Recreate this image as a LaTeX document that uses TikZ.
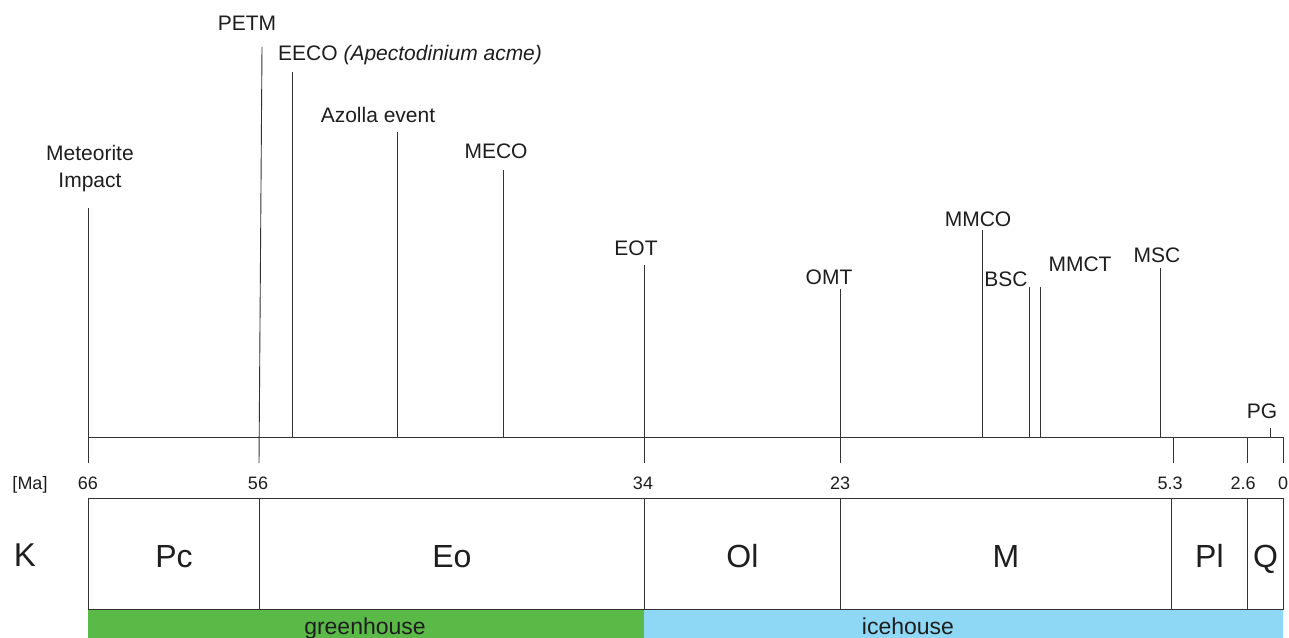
\documentclass[tikz,border=0pt]{standalone}
\usepackage{fontspec}
\setmainfont{Liberation Sans}
\definecolor{ghgreen}{RGB}{91,185,72}
\definecolor{ihblue}{RGB}{142,216,246}
\definecolor{ln}{RGB}{50,50,50}
\definecolor{txt}{RGB}{30,30,30}
\begin{document}
\begin{tikzpicture}[x=1pt,y=-1pt,
  evlabel/.style={font=\fontsize{21}{27}\selectfont, anchor=base, inner sep=0pt, text=txt},
  ticklabel/.style={font=\fontsize{18}{21}\selectfont, anchor=base, inner sep=0pt, text=txt},
  periodbox/.style={draw=ln, line width=0.9pt, anchor=north west, minimum height=111pt, inner sep=0pt, text height=27pt, text depth=0pt, font=\fontsize{32}{36}\selectfont, text=txt},
  climatebar/.style={anchor=north west, minimum height=41pt, inner sep=0pt},
  climatelabel/.style={anchor=base, inner sep=0pt, font=\fontsize{23}{26}\selectfont, text=txt},
  evline/.style={draw=ln, line width=0.9pt},
]
\useasboundingbox (0,0) rectangle (1289,637);
\fill[white] (0,0) rectangle (1289,637);

% climate bars
\node[climatebar, fill=ghgreen, minimum width=556pt] (gh) at (88,609) {};
\node[climatebar, fill=ihblue, minimum width=639pt] (ih) at (644,609) {};
\node[climatelabel] (ghl) at (365,634) {greenhouse};
\node[climatelabel] (ihl) at (908,634) {icehouse};

% period boxes
\node[periodbox, minimum width=171pt] (Pc) at (88,498) {Pc};
\node[periodbox, minimum width=385pt] (Eo) at (259,498) {Eo};
\node[periodbox, minimum width=196pt] (Ol) at (644,498) {Ol};
\node[periodbox, minimum width=331pt] (M) at (840,498) {M};
\node[periodbox, minimum width=76pt] (Pl) at (1171,498) {Pl};
\node[periodbox, minimum width=36pt] (Q) at (1247,498) {Q};
\node[font=\fontsize{33}{36}\selectfont, anchor=base, inner sep=0pt, text=txt] (K) at (25,566) {K};

% axis
\coordinate (ax0) at (88,437);
\coordinate (ax1) at (1283,437);
\draw[evline] (ax0) -- (ax1);

% age ticks and labels
\node[ticklabel] (ma) at (30,489) {[Ma]};
\node[ticklabel] (t66) at (88,489) {66};
\node[ticklabel] (t56) at (258,489) {56};
\node[ticklabel] (t34) at (643,489) {34};
\node[ticklabel] (t23) at (840,489) {23};
\node[ticklabel] (t53) at (1170,489) {5.3};
\node[ticklabel] (t26) at (1243,489) {2.6};
\node[ticklabel] (t0) at (1283,489) {0};

\coordinate (k53t) at (1173,437); \coordinate (k53b) at (1173,463);
\coordinate (k26t) at (1247,437); \coordinate (k26b) at (1247,463);
\coordinate (k0t) at (1283,437); \coordinate (k0b) at (1283,463);
\draw[evline] (k53t) -- (k53b);
\draw[evline] (k26t) -- (k26b);
\draw[evline] (k0t) -- (k0b);

% events
\node[evlabel, align=center] (mi) at (90,187) {Meteorite\\Impact};
\coordinate (mit) at (88,208); \coordinate (mib) at (88,463);
\draw[evline] (mit) -- (mib);

\node[evlabel] (petm) at (247,30) {PETM};
\coordinate (petmt) at (262,47); \coordinate (petmb) at (259,463);
\draw[evline] (petmt) -- (petmb);

\node[evlabel, anchor=base west] (eeco) at (278,60) {EECO \textit{(Apectodinium acme)}};
\coordinate (eecot) at (292,72); \coordinate (eecob) at (292,437);
\draw[evline] (eecot) -- (eecob);

\node[evlabel] (azolla) at (378,122) {Azolla event};
\coordinate (azt) at (397,132); \coordinate (azb) at (397,437);
\draw[evline] (azt) -- (azb);

\node[evlabel] (meco) at (496,158) {MECO};
\coordinate (mecot) at (503,170); \coordinate (mecob) at (503,437);
\draw[evline] (mecot) -- (mecob);

\node[evlabel] (eot) at (636,255) {EOT};
\coordinate (eott) at (644,265); \coordinate (eotb) at (644,463);
\draw[evline] (eott) -- (eotb);

\node[evlabel] (omt) at (829,284) {OMT};
\coordinate (omtt) at (840,289); \coordinate (omtb) at (840,463);
\draw[evline] (omtt) -- (omtb);

\node[evlabel] (mmco) at (978,226) {MMCO};
\coordinate (mmcot) at (982,230); \coordinate (mmcob) at (982,437);
\draw[evline] (mmcot) -- (mmcob);

\node[evlabel] (bsc) at (1006,286) {BSC};
\coordinate (bsct) at (1029,287); \coordinate (bscb) at (1029,437);
\draw[evline] (bsct) -- (bscb);

\node[evlabel] (mmct) at (1080,271) {MMCT};
\coordinate (mmctt) at (1040,287); \coordinate (mmctb) at (1040,437);
\draw[evline] (mmctt) -- (mmctb);

\node[evlabel] (msc) at (1157,262) {MSC};
\coordinate (msct) at (1160,268); \coordinate (mscb) at (1160,437);
\draw[evline] (msct) -- (mscb);

\node[evlabel] (pg) at (1262,418) {PG};
\coordinate (pgt) at (1270,428); \coordinate (pgb) at (1270,437);
\draw[evline] (pgt) -- (pgb);
\end{tikzpicture}
\end{document}
